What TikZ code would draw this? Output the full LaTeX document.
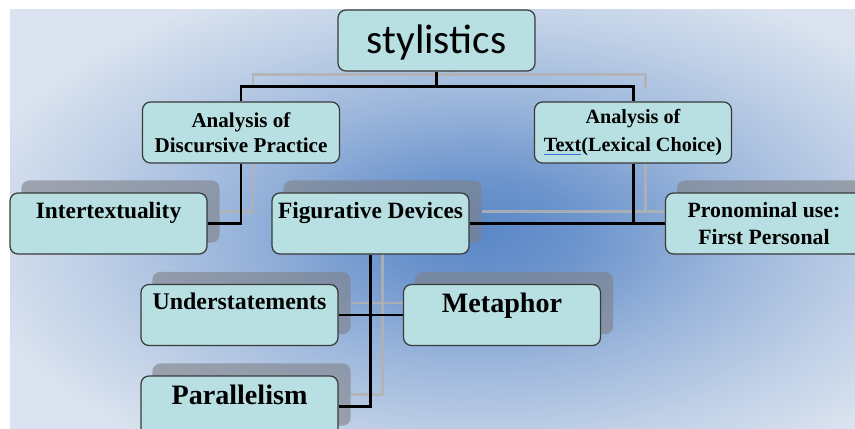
\documentclass[tikz,border=0pt]{standalone}
\usepackage{fontspec}
\setmainfont{Liberation Serif}
\newfontfamily\calibri{Carlito}
\usetikzlibrary{positioning,calc}

\definecolor{boxfill}{HTML}{B8E0E2}
\definecolor{boxline}{HTML}{3A3A3A}
\definecolor{bglight}{HTML}{DAE3EF}
\definecolor{bgblue}{HTML}{5A87C7}
\definecolor{markblue}{HTML}{3B6FD8}
\definecolor{shadowgray}{HTML}{7E8086}

\pgfdeclarelayer{back}
\pgfdeclarelayer{shade}
\pgfdeclarelayer{wire}
\pgfsetlayers{back,shade,wire,main}

\pgfdeclareradialshading{glow}{\pgfpoint{0bp}{0bp}}{color(0bp)=(bgblue); color(5bp)=(bgblue!85!bglight); color(12bp)=(bgblue!50!bglight); color(18bp)=(bgblue!25!bglight); color(25bp)=(bglight); color(50bp)=(bglight)}

% blue spell-check mark under a word
\newcommand\spellmark[1]{\setbox0\hbox{#1}\rlap{\color{markblue}\rule[-2.2pt]{\wd0}{0.7pt}}\box0}

% the tree connections, drawn twice (shadow and line)
\newcommand\treelinks{%
  \draw (sty.south) -- ++(0,15) -| (adp.north);
  \draw (sty.south) -- ++(0,15) -| (atx.north);
  \draw (adp.south) |- (itx.east);
  \draw (atx.south) -- (atx.south |- fig.east);
  \draw (fig.east) -- (pro.west);
  \draw (fig.south) |- (par.east);
  \draw (und.east) -- (met.west);
}

\begin{document}
\begin{tikzpicture}[x=0.02cm, y=-0.02cm,
  box/.style={rectangle, draw=boxline, line width=0.7pt, fill=boxfill, rounded corners=4.5pt,
    minimum width=3.94cm, minimum height=1.22cm, inner sep=2pt, align=center},
  oneline/.style={text height=10pt, text depth=16pt},
  bigline/.style={text height=12pt, text depth=14.5pt},
  link/.style={line width=1.7pt, black},
  linkshadow/.style={line width=1.7pt, gray!60, opacity=0.85},
  boxshadow/.style={fill=shadowgray, opacity=0.6, rounded corners=4.5pt}]
\useasboundingbox (0,0) rectangle (855,429);

% Background
\begin{pgfonlayer}{back}
  \fill[bglight] (10,10) rectangle (855,429);
  \begin{scope}
    \clip (10,10) rectangle (855,429);
    \shade[shading=glow] (480,232) ++(-520,-270) rectangle ++(1040,540);
  \end{scope}
\end{pgfonlayer}

% Level 1
\node[box, text height=15pt, text depth=0pt, font=\calibri\fontsize{23.5}{27}\selectfont] (sty) at (436.5,40.5) {stylistics};

% Level 2
\node[box, font=\bfseries\fontsize{12}{14}\selectfont] (adp) at (241,132.5) {Analysis of\\Discursive Practice};
\node[box, font=\bfseries\fontsize{11.5}{15.5}\selectfont] (atx) at (633,132.5) {Analysis of\\\spellmark{Text}(Lexical Choice)};

% Level 3
\node[box, oneline, font=\bfseries\fontsize{13.3}{16}\selectfont] (itx) at (108.5,223.5) {Intertextuality};
\node[box, oneline, font=\bfseries\fontsize{13.3}{16}\selectfont] (fig) at (370.5,223.5) {Figurative Devices};
\node[box, font=\bfseries\fontsize{12.4}{15.8}\selectfont] (pro) at (764,223.5) {Pronominal use:\\First Personal};

% Level 4
\node[box, oneline, font=\bfseries\fontsize{13.6}{16}\selectfont] (und) at (239.5,315) {Understatements};
\node[box, bigline, font=\bfseries\fontsize{16}{19}\selectfont] (met) at (502,315) {Metaphor};
\node[box, bigline, font=\bfseries\fontsize{16}{19}\selectfont] (par) at (239.5,406.5) {Parallelism};

% Shadows
\begin{pgfonlayer}{shade}
  \foreach \n in {itx,fig,pro,und,met,par}
    \fill[boxshadow] ([shift={(12,-12)}]\n.south west) rectangle ([shift={(12,-12)}]\n.north east);
  \begin{scope}[linkshadow, transform canvas={shift={(12,-12)}}]
    \treelinks
  \end{scope}
\end{pgfonlayer}

% Connections
\begin{pgfonlayer}{wire}
  \begin{scope}[link]
    \treelinks
  \end{scope}
\end{pgfonlayer}
\end{tikzpicture}
\end{document}
